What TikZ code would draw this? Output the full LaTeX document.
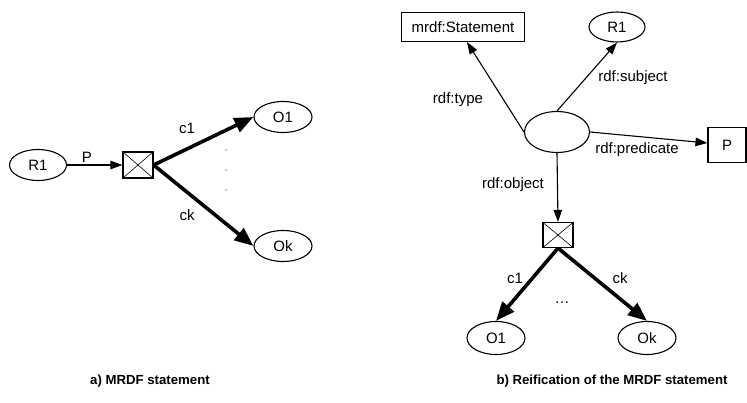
\documentclass[tikz,border=0pt]{standalone}
\usepackage{fontspec}
\setmainfont{Liberation Sans}
\usetikzlibrary{shapes.geometric,arrows.meta}
\tikzset{
  res/.style={ellipse,draw,line width=1.1pt,minimum width=57pt,minimum height=31pt,inner sep=0pt,font=\fontsize{15}{17}\selectfont},
  lit/.style={rectangle,draw,line width=1.1pt,inner sep=0pt,font=\fontsize{15}{17}\selectfont},
  xbox/.style={rectangle,draw,line width=1.2pt,minimum width=30pt,minimum height=26pt,inner sep=0pt,
    path picture={\draw[line width=0.6pt] (path picture bounding box.north west) -- (path picture bounding box.south east)
                                          (path picture bounding box.south west) -- (path picture bounding box.north east);}},
  thinarrow/.style={line width=1.1pt,-{Triangle[length=12pt,width=8.5pt]}},
  thickarrow/.style={line width=3.6pt,-{Triangle[length=19pt,width=15pt]}},
  lbl/.style={inner sep=0pt,font=\fontsize{15}{17}\selectfont},
  captext/.style={inner sep=0pt,font=\bfseries\fontsize{13.2}{15}\selectfont},
  dotmark/.style={circle,fill,inner sep=0pt,minimum size=1.2pt}
}
\begin{document}
\begin{tikzpicture}[x=1pt,y=-1pt]
\useasboundingbox (0,0) rectangle (747,403);

% a) MRDF statement
\node[res] (aR1) at (38,165) {R1};
\node[xbox] (abox) at (138,165) {};
\node[res,minimum width=58pt] (aO1) at (283,117) {O1};
\node[res,minimum width=58pt] (aOk) at (283,246) {Ok};
\draw[thinarrow] (aR1.east) -- (abox.west);
\draw[thickarrow] (abox.east) -- (aO1.west);
\draw[thickarrow] (abox.east) -- (aOk.west);
\node[lbl] (aP) at (87,157) {P};
\node[lbl] (ac1) at (187,128) {c1};
\node[lbl] (ack) at (187,215) {ck};
\node[dotmark] (ad1) at (226,150) {};
\node[dotmark] (ad2) at (226,170) {};
\node[dotmark] (ad3) at (226,190) {};
\node[captext] (acap) at (150,381) {a) MRDF statement};

% b) Reification of the MRDF statement
\node[lit,minimum width=123pt,minimum height=29pt] (bst) at (463,27) {mrdf:Statement};
\node[res,minimum width=56pt,minimum height=30pt] (bR1) at (617,27) {R1};
\node[res,minimum width=65pt,minimum height=41pt] (bc) at (557,132) {};
\node[lit,minimum width=38pt,minimum height=35pt] (bP) at (727,145) {P};
\node[xbox,minimum height=25pt] (bbox) at (558,235) {};
\node[res,minimum width=58pt,minimum height=33pt] (bO1) at (496,338) {O1};
\node[res,minimum width=58pt,minimum height=33pt] (bOk) at (647,338) {Ok};
\draw[thinarrow] (bc.west) -- ([xshift=4pt]bst.south);
\draw[thinarrow] (bc.north) -- (bR1.south);
\draw[thinarrow] (bc.east) -- ([yshift=2pt]bP.west);
\draw[thinarrow] (bc.south) -- (bbox.north);
\draw[thickarrow] (bbox.south) -- (bO1.north);
\draw[thickarrow] (bbox.south) -- (bOk.north);
\node[lbl] (btype) at (458,100) {rdf:type};
\node[lbl] (bsubj) at (633,78) {rdf:subject};
\node[lbl] (bpred) at (637,150) {rdf:predicate};
\node[lbl] (bobj) at (513,185) {rdf:object};
\node[lbl] (bc1) at (515,278) {c1};
\node[lbl] (bck) at (620,278) {ck};
\node[lbl] (bdots) at (562,303) {\dots};
\node[captext] (bcap) at (612,381) {b) Reification of the MRDF statement};
\end{tikzpicture}
\end{document}
